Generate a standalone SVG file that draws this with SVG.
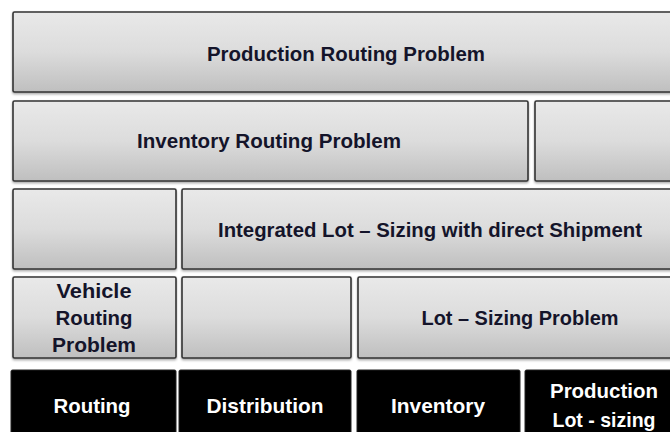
<svg xmlns="http://www.w3.org/2000/svg" width="670" height="432" viewBox="0 0 670 432">
<defs>
<linearGradient id="g" x1="0" y1="0" x2="0" y2="1">
<stop offset="0" stop-color="#e9e9e9"/>
<stop offset="0.5" stop-color="#dcdcdc"/>
<stop offset="1" stop-color="#bfbfbf"/>
</linearGradient>
<filter id="sh" x="-5%" y="-5%" width="110%" height="120%">
<feDropShadow dx="0" dy="1.5" stdDeviation="1.2" flood-color="#000" flood-opacity="0.35"/>
</filter>
</defs>
<style>
.box{fill:url(#g);stroke:#333;stroke-width:1.6;filter:url(#sh)}
.blk{fill:#000;stroke:#222;stroke-width:1}
.t{font-family:"Liberation Sans",Arial,sans-serif;font-weight:bold;font-size:21px;fill:#14142a;text-anchor:middle}
.w{font-family:"Liberation Sans",Arial,sans-serif;font-weight:bold;font-size:21px;fill:#fff;text-anchor:middle}
</style>
<rect width="670" height="432" fill="#fff"/>
<g id="production-routing">
<rect class="box" x="13" y="12" width="662" height="80" rx="1.5"/>
<text class="t" x="346" y="61" textLength="278" lengthAdjust="spacingAndGlyphs">Production Routing Problem</text>
</g>
<g id="inventory-routing">
<rect class="box" x="13" y="101" width="515" height="80" rx="1.5"/>
<text class="t" x="269" y="148" textLength="264" lengthAdjust="spacingAndGlyphs">Inventory Routing Problem</text>
</g>
<g id="row2-right">
<rect class="box" x="535" y="101" width="140" height="80" rx="1.5"/>
</g>
<g id="row3-left">
<rect class="box" x="13" y="189" width="163" height="80" rx="1.5"/>
</g>
<g id="integrated-lot-sizing">
<rect class="box" x="182" y="189" width="493" height="80" rx="1.5"/>
<text class="t" x="430" y="237" textLength="424" lengthAdjust="spacingAndGlyphs">Integrated Lot – Sizing with direct Shipment</text>
</g>
<g id="vehicle-routing">
<rect class="box" x="13" y="277" width="163" height="81" rx="1.5"/>
<text class="t" x="94" y="298" textLength="75" lengthAdjust="spacingAndGlyphs">Vehicle</text>
<text class="t" x="94" y="325" textLength="77" lengthAdjust="spacingAndGlyphs">Routing</text>
<text class="t" x="94" y="352" textLength="84" lengthAdjust="spacingAndGlyphs">Problem</text>
</g>
<g id="row4-middle">
<rect class="box" x="182" y="277" width="169" height="81" rx="1.5"/>
</g>
<g id="lot-sizing">
<rect class="box" x="358" y="277" width="317" height="81" rx="1.5"/>
<text class="t" x="520" y="325" textLength="197" lengthAdjust="spacingAndGlyphs">Lot – Sizing Problem</text>
</g>
<g id="routing">
<rect class="blk" x="11" y="370" width="165" height="75" rx="1.5"/>
<text class="w" x="92" y="413" textLength="77" lengthAdjust="spacingAndGlyphs">Routing</text>
</g>
<g id="distribution">
<rect class="blk" x="179" y="370" width="172" height="75" rx="1.5"/>
<text class="w" x="265" y="413" textLength="117" lengthAdjust="spacingAndGlyphs">Distribution</text>
</g>
<g id="inventory">
<rect class="blk" x="357" y="370" width="163" height="75" rx="1.5"/>
<text class="w" x="438" y="413" textLength="94" lengthAdjust="spacingAndGlyphs">Inventory</text>
</g>
<g id="production-lot-sizing">
<rect class="blk" x="525" y="370" width="150" height="75" rx="1.5"/>
<text class="w" x="604" y="398" textLength="108" lengthAdjust="spacingAndGlyphs">Production</text>
<text class="w" x="604" y="427" textLength="103" lengthAdjust="spacingAndGlyphs">Lot - sizing</text>
</g>
<g id="connectors"/>
</svg>
